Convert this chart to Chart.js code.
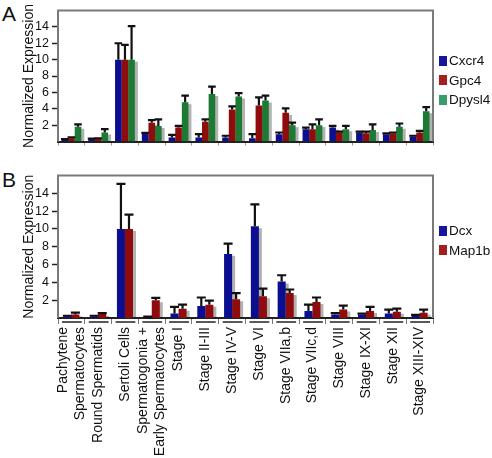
<!DOCTYPE html>
<html>
<head>
<meta charset="utf-8">
<script src="https://cdn.jsdelivr.net/npm/chart.js@4"></script>
<style>
body{margin:0;background:#fff;width:492px;height:458px;position:relative;overflow:hidden;font-family:"Liberation Sans",Arial,sans-serif;color:#111}
.box{position:absolute;left:0;width:440px}
.letter{position:absolute;left:2px;font-size:21px;line-height:24px}
.legend{position:absolute;left:439px;font-size:13.5px}
.legend div{height:19.5px;display:flex;align-items:center;white-space:nowrap}
.legend .sw{display:inline-block;width:8px;height:10px;margin-right:2px}
</style>
</head>
<body>
<div class="letter" style="top:2px">A</div>
<div class="letter" style="top:168px">B</div>
<div class="box" style="top:0;height:152px"><canvas id="chartA"></canvas></div>
<div class="box" style="top:165px;height:293px"><canvas id="chartB"></canvas></div>
<div class="legend" id="legendA" style="top:51px"></div>
<div class="legend" id="legendB" style="top:221px"></div>
<script>
// categories (shared by both panels)
const categories = [['Pachytene','Spermatocytes'],'Round Spermatids','Sertoli Cells',['Spermatogonia +','Early Spermatocytes'],
  'Stage I','Stage II-III','Stage IV-V','Stage VI','Stage VIIa,b','Stage VIIc,d','Stage VIII','Stage IX-XI','Stage XII','Stage XIII-XIV'];

// panel A means and error (sd) values
const cxcr4 =    [0.2,0.3,10,1.0,0.5,0.5,0.5,0.4,0.9,1.5,1.7,1.1,0.9,0.6];
const cxcr4Err = [0.1,0.05,2.0,0.05,0.3,0.4,0.2,0.5,0.2,0.2,0.2,0.1,0.1,0.1];
const gpc4 =     [0.4,0.3,10,2.3,1.7,2.4,3.9,4.4,3.5,1.5,1.1,1.0,1.0,1.1];
const gpc4Err =  [0.1,0.1,1.8,0.3,0.2,0.3,0.4,1.0,0.55,0.6,0.1,0.2,0.1,0.2];
const dpysl4 =   [1.8,1.1,10,1.9,4.8,5.8,5.5,5.0,2.0,2.0,1.5,1.4,1.8,3.7];
const dpysl4Err =[0.3,0.4,4.1,0.8,0.8,0.9,0.4,0.6,0.3,0.7,0.4,0.7,0.4,0.5];

// panel B
const dcx =      [0.2,0.2,10,0.1,0.5,1.35,7.2,10.3,4.1,0.8,0.4,0.4,0.5,0.25];
const dcxErr =   [0.05,0.05,5.05,0.05,0.75,0.95,1.15,2.45,0.7,0.7,0.15,0.1,0.45,0.1];
const map1b =    [0.4,0.45,10,2.0,1.05,1.5,2.1,2.45,2.8,1.8,0.95,0.8,0.7,0.6];
const map1bErr = [0.2,0.1,1.6,0.25,0.45,0.45,0.7,0.85,0.4,0.5,0.45,0.45,0.35,0.35];

const yTicks = [2,4,6,8,10,12,14];

Chart.defaults.font.family = '"Liberation Sans", Arial, sans-serif';
Chart.defaults.color = '#111';

// grey drop shadow behind every bar
const shadowPlugin = {
  id:'shadow',
  beforeDatasetsDraw(chart){
    const ctx = chart.ctx;
    ctx.save();
    ctx.fillStyle = 'rgba(0,0,0,0.3)';
    chart.data.datasets.forEach((ds,i)=>{
      chart.getDatasetMeta(i).data.forEach(bar=>{
        const p = bar.getProps(['x','y','base','width'],true);
        ctx.fillRect(p.x - p.width/2 + 3, p.y + 2, p.width, p.base - p.y - 2);
      });
    });
    ctx.restore();
  }
};

// upper error bars from the dataset's err array
const errorPlugin = {
  id:'errbars',
  afterDatasetsDraw(chart){
    const ctx = chart.ctx, yScale = chart.scales.y;
    ctx.save();
    ctx.strokeStyle = '#111';
    ctx.lineWidth = 2.2;
    chart.data.datasets.forEach((ds,i)=>{
      chart.getDatasetMeta(i).data.forEach((bar,j)=>{
        const p = bar.getProps(['x','y','width'],true);
        const top = yScale.getPixelForValue(ds.data[j] + ds.err[j]);
        ctx.beginPath();
        ctx.moveTo(p.x, p.y);
        ctx.lineTo(p.x, top);
        ctx.moveTo(p.x - p.width/2 - 0.5, top);
        ctx.lineTo(p.x + p.width/2 + 0.5, top);
        ctx.stroke();
      });
    });
    ctx.restore();
  }
};

// grey frame (top, left, right) round the plot area
const framePlugin = {
  id:'frame',
  afterDraw(chart){
    const {ctx, chartArea:a} = chart;
    ctx.save();
    ctx.strokeStyle = '#7a7a7a';
    ctx.lineWidth = 2;
    ctx.beginPath();
    ctx.moveTo(a.left, a.bottom);
    ctx.lineTo(a.left, a.top);
    ctx.lineTo(a.right, a.top);
    ctx.lineTo(a.right, a.bottom);
    ctx.stroke();
    ctx.restore();
  }
};

// short underline under each category group (panel B)
const underlinePlugin = {
  id:'underline',
  afterDraw(chart){
    const {ctx, scales:{x}} = chart;
    const w = x.width / categories.length;
    ctx.save();
    ctx.strokeStyle = '#222';
    ctx.lineWidth = 1.5;
    categories.forEach((c,j)=>{
      const cx = x.getPixelForValue(j);
      ctx.beginPath();
      ctx.moveTo(cx - w/2 + 4, x.top + 4);
      ctx.lineTo(cx + w/2 - 3, x.top + 4);
      ctx.stroke();
    });
    ctx.restore();
  }
};

// rotated two-line labels: centre the lines on the tick instead of starting at it
const centerLabelsPlugin = {
  id:'centerLabels',
  beforeDraw(chart){
    const x = chart.scales.x;
    const items = x.getLabelItems(chart.chartArea);
    const lh = x.options.ticks.font.size * x.options.ticks.font.lineHeight;
    items.forEach(it=>{
      if (Array.isArray(it.label) && !it._centred) {
        it.textOffset -= (it.label.length - 1) * lh / 2;
        it._centred = true;
      }
    });
  }
};

function yScale(){
  return {
    min:0, max:16,
    afterFit: s => { s.width = 58; },
    afterBuildTicks: s => { s.ticks = yTicks.map(v => ({value:v})); },
    ticks:{font:{size:12.5}, padding:3, color:'#111'},
    grid:{drawOnChartArea:false, tickLength:6, tickColor:'#222', tickWidth:1.5},
    border:{display:false},
    title:{display:true, text:'Normalized Expression', font:{size:14}, color:'#111', padding:{top:20.5, bottom:0}}
  };
}

function barSet(label, data, err, color){
  return {label, data, err, backgroundColor:color, borderWidth:0};
}

function legend(el, names, colors){
  const box = document.getElementById(el);
  names.forEach((n,i)=>{
    const d = document.createElement('div');
    d.innerHTML = '<span class="sw" style="background:'+colors[i]+'"></span>' + n;
    box.appendChild(d);
  });
}

const barColA = ['#0c0e90','#900c0c','#1c7a34'];
const legColA = ['#16169c','#a31f1f','#3a9b6b'];
const barColB = ['#0c0e90','#900c0c'];
const legColB = ['#16169c','#a31f1f'];

new Chart(document.getElementById('chartA'), {
  type:'bar',
  data:{
    labels:categories,
    datasets:[
      barSet('Cxcr4', cxcr4, cxcr4Err, barColA[0]),
      barSet('Gpc4', gpc4, gpc4Err, barColA[1]),
      barSet('Dpysl4', dpysl4, dpysl4Err, barColA[2])
    ]
  },
  options:{
    responsive:true, maintainAspectRatio:false, animation:false,
    layout:{padding:{top:2, right:7, left:0, bottom:0}},
    categoryPercentage:0.74, barPercentage:1.0,
    plugins:{legend:{display:false}, tooltip:{enabled:false}},
    scales:{
      x:{
        afterFit: s => { s.height = 5; },
        ticks:{display:false},
        grid:{offset:true, drawOnChartArea:false, tickLength:4, tickColor:'#999'},
        border:{color:'#222', width:2}
      },
      y:yScale()
    }
  },
  plugins:[shadowPlugin, errorPlugin, framePlugin]
});

new Chart(document.getElementById('chartB'), {
  type:'bar',
  data:{
    labels:categories,
    datasets:[
      barSet('Dcx', dcx, dcxErr, barColB[0]),
      barSet('Map1b', map1b, map1bErr, barColB[1])
    ]
  },
  options:{
    responsive:true, maintainAspectRatio:false, animation:false,
    layout:{padding:{top:8, right:7, left:0, bottom:0}},
    categoryPercentage:0.6, barPercentage:1.0,
    plugins:{legend:{display:false}, tooltip:{enabled:false}},
    scales:{
      x:{
        afterFit: s => { s.height = 140; },
        ticks:{minRotation:90, maxRotation:90, autoSkip:false, font:{size:14, lineHeight:1.2}, color:'#111', padding:3},
        grid:{offset:true, drawOnChartArea:false, tickLength:6, tickColor:'#777'},
        border:{color:'#222', width:2}
      },
      y:yScale()
    }
  },
  plugins:[shadowPlugin, errorPlugin, framePlugin, underlinePlugin, centerLabelsPlugin]
});

legend('legendA', ['Cxcr4','Gpc4','Dpysl4'], legColA);
legend('legendB', ['Dcx','Map1b'], legColB);
</script>
</body>
</html>
